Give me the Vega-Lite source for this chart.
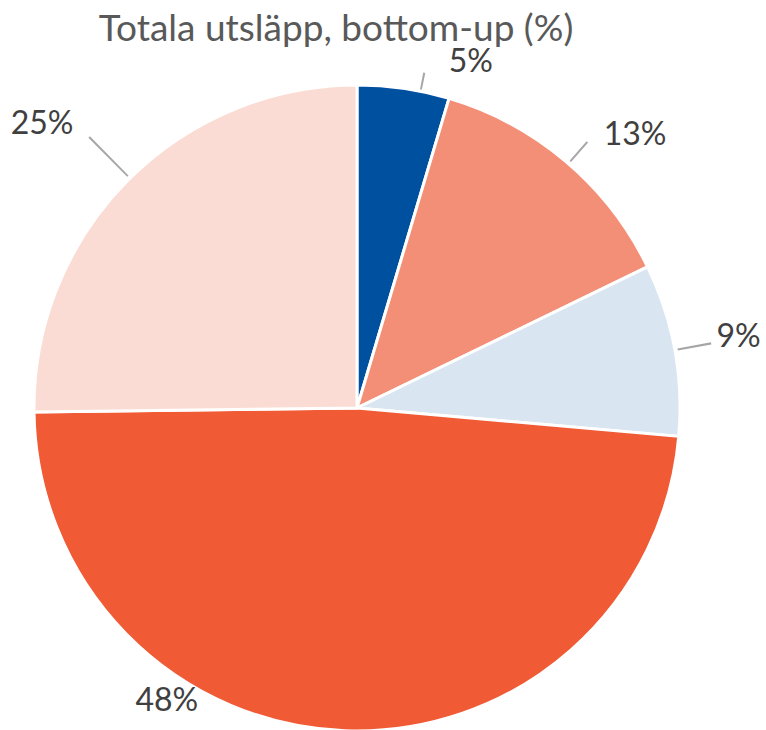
{
  "$schema": "https://vega.github.io/schema/vega-lite/v6.json",
  "autosize": {"type": "none"},
  "padding": {"top": 86, "left": 0, "right": 52, "bottom": 0},
  "width": 714,
  "height": 644,
  "background": "white",
  "title": {
    "text": "Totala utsläpp, bottom-up (%)",
    "font": "Lato",
    "fontSize": 37,
    "fontWeight": "normal",
    "color": "#595959",
    "anchor": "middle",
    "baseline": "alphabetic",
    "offset": -32,
    "dx": -21
  },
  "config": {"view": {"stroke": null}},
  "data": {
    "values": [
      {"category": "A", "order": 1, "value": 4.6, "label": "5%"},
      {"category": "B", "order": 2, "value": 13.2, "label": "13%"},
      {"category": "C", "order": 3, "value": 8.6, "label": "9%"},
      {"category": "D", "order": 4, "value": 48.4, "label": "48%"},
      {"category": "E", "order": 5, "value": 25.2, "label": "25%"}
    ]
  },
  "transform": [
    {"stack": "value", "groupby": [], "sort": [{"field": "order", "order": "ascending"}], "as": ["v0", "v1"]}
  ],
  "encoding": {
    "theta": {"field": "v0", "type": "quantitative", "scale": {"domain": [0, 100]}},
    "theta2": {"field": "v1"},
    "color": {
      "field": "category",
      "type": "nominal",
      "scale": {
        "domain": ["A", "B", "C", "D", "E"],
        "range": ["#0050A0", "#F48F77", "#DAE5F2", "#F05A35", "#FBDCD4"]
      },
      "legend": null
    }
  },
  "layer": [
    {
      "mark": {"type": "arc", "outerRadius": 323, "stroke": "white", "strokeWidth": 3}
    },
    {
      "transform": [{"filter": "datum.category == 'A'"}],
      "mark": {"type": "arc", "innerRadius": 325, "outerRadius": 342, "thetaOffset": 0.195, "theta2Offset": 0.201},
      "encoding": {"theta2": {"field": "v0"}, "color": {"value": "#A6A6A6"}}
    },
    {
      "transform": [{"filter": "datum.category == 'B'"}],
      "mark": {"type": "arc", "innerRadius": 326, "outerRadius": 352, "thetaOffset": 0.4213, "theta2Offset": 0.4273},
      "encoding": {"theta2": {"field": "v0"}, "color": {"value": "#A6A6A6"}}
    },
    {
      "transform": [{"filter": "datum.category == 'C'"}],
      "mark": {"type": "arc", "innerRadius": 326, "outerRadius": 360, "thetaOffset": 0.269, "theta2Offset": 0.275},
      "encoding": {"theta2": {"field": "v0"}, "color": {"value": "#A6A6A6"}}
    },
    {
      "transform": [{"filter": "datum.category == 'E'"}],
      "mark": {"type": "arc", "innerRadius": 326, "outerRadius": 381, "thetaOffset": 0.801, "theta2Offset": 0.8065},
      "encoding": {"theta2": {"field": "v0"}, "color": {"value": "#A6A6A6"}}
    },
    {
      "transform": [{"filter": "datum.category == 'A'"}],
      "mark": {"type": "text", "radius": 364, "thetaOffset": 0.318, "font": "Lato", "fontSize": 32, "baseline": "middle", "align": "center"},
      "encoding": {"text": {"field": "label"}, "color": {"value": "#404040"}}
    },
    {
      "transform": [{"filter": "datum.category == 'B'"}],
      "mark": {"type": "text", "radius": 390, "thetaOffset": 0.505, "font": "Lato", "fontSize": 32, "baseline": "middle", "align": "center"},
      "encoding": {"text": {"field": "label"}, "color": {"value": "#404040"}}
    },
    {
      "transform": [{"filter": "datum.category == 'C'"}],
      "mark": {"type": "text", "radius": 388, "thetaOffset": 0.269, "font": "Lato", "fontSize": 32, "baseline": "middle", "align": "center"},
      "encoding": {"text": {"field": "label"}, "color": {"value": "#404040"}}
    },
    {
      "transform": [{"filter": "datum.category == 'D'"}],
      "mark": {"type": "text", "radius": 349, "thetaOffset": 2.059, "font": "Lato", "fontSize": 32, "baseline": "middle", "align": "center"},
      "encoding": {"text": {"field": "label"}, "color": {"value": "#404040"}}
    },
    {
      "transform": [{"filter": "datum.category == 'E'"}],
      "mark": {"type": "text", "radius": 424, "thetaOffset": 0.746, "font": "Lato", "fontSize": 32, "baseline": "middle", "align": "center"},
      "encoding": {"text": {"field": "label"}, "color": {"value": "#404040"}}
    }
  ]
}
